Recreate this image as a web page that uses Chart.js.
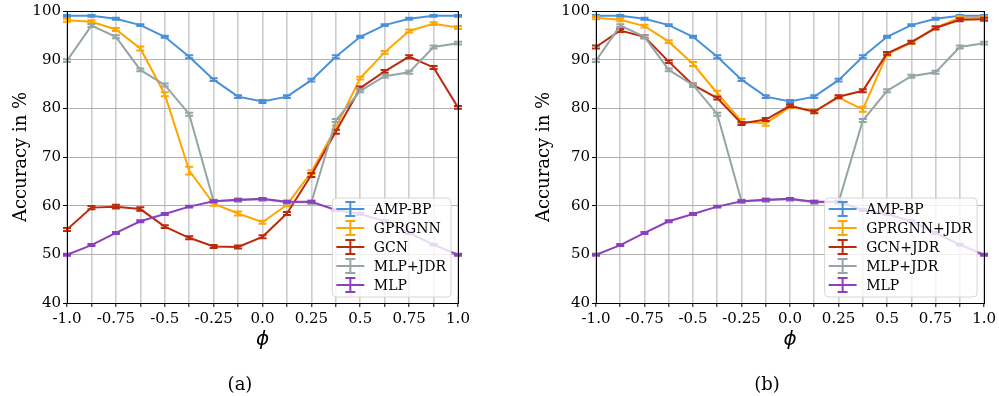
<!DOCTYPE html>
<html>
<head>
<meta charset="utf-8">
<script src="https://cdn.jsdelivr.net/npm/chart.js@4.4.1/dist/chart.umd.min.js"></script>
<style>
  html, body { margin: 0; padding: 0; background: #fff; width: 999px; height: 396px; overflow: hidden; }
  .panel { position: absolute; top: 0; width: 500px; height: 396px; }
  .cap { position: absolute; font-family: "DejaVu Serif", serif; font-size: 18px; color: #000; transform: translate(-50%, -50%); white-space: nowrap; }
</style>
</head>
<body>
<div class="panel" style="left:0"><canvas id="ca" width="500" height="396"></canvas></div>
<div class="panel" style="left:499px"><canvas id="cb" width="500" height="396"></canvas></div>
<div class="cap" style="left:240px; top:383px">(a)</div>
<div class="cap" style="left:767px; top:383px">(b)</div>
<script>
// ---------- data ----------
const phi = [-1, -0.875, -0.75, -0.625, -0.5, -0.375, -0.25, -0.125, 0, 0.125, 0.25, 0.375, 0.5, 0.625, 0.75, 0.875, 1];
const xTickLabels = ['-1.0', '-0.75', '-0.5', '-0.25', '0.0', '0.25', '0.5', '0.75', '1.0'];
const yTicks = [40, 50, 60, 70, 80, 90, 100];

const ampbp   = [99.0, 99.0, 98.4, 97.1, 94.7, 90.6, 85.9, 82.4, 81.4, 82.4, 85.8, 90.6, 94.7, 97.1, 98.4, 99.0, 99.0];
const gprgnnA = [98.1, 97.8, 96.2, 92.3, 82.9, 67.2, 60.4, 58.4, 56.6, 60.2, 66.9, 76.0, 86.2, 91.5, 95.9, 97.4, 96.6];
const gcnA    = [55.1, 59.6, 59.8, 59.3, 55.7, 53.4, 51.6, 51.5, 53.6, 58.4, 66.3, 75.2, 84.2, 87.6, 90.6, 88.4, 80.2];
const mlpjdr  = [89.8, 97.0, 94.7, 87.9, 84.8, 78.8, 60.9, 61.1, 61.3, 60.7, 60.7, 77.5, 83.6, 86.6, 87.4, 92.6, 93.4];
const mlp     = [49.9, 51.9, 54.4, 56.8, 58.3, 59.8, 60.9, 61.2, 61.4, 60.8, 60.8, 59.1, 58.3, 56.8, 54.4, 52.0, 49.9];
const gprgnnB = [98.6, 98.2, 96.9, 93.7, 89.1, 83.1, 77.3, 76.9, 80.3, 79.4, 82.2, 79.8, 91.1, 93.5, 96.6, 98.6, 98.6];
const gcnB    = [92.6, 96.0, 94.7, 89.6, 84.8, 82.1, 76.9, 77.7, 80.5, 79.3, 82.4, 83.6, 91.3, 93.6, 96.5, 98.2, 98.3];

// standard deviations (error bars)
const errAmp    = [0.2, 0.2, 0.2, 0.2, 0.2, 0.3, 0.3, 0.3, 0.3, 0.3, 0.3, 0.3, 0.2, 0.2, 0.2, 0.2, 0.2];
const errGprA   = [0.3, 0.3, 0.3, 0.4, 0.4, 0.8, 0.4, 0.4, 0.3, 0.3, 0.4, 0.4, 0.3, 0.3, 0.3, 0.3, 0.3];
const errGcnA   = [0.3, 0.35, 0.4, 0.35, 0.3, 0.3, 0.3, 0.3, 0.3, 0.3, 0.4, 0.4, 0.3, 0.3, 0.3, 0.3, 0.3];
const errJdr    = [0.3, 0.3, 0.3, 0.3, 0.3, 0.3, 0.3, 0.3, 0.3, 0.3, 0.3, 0.3, 0.3, 0.3, 0.3, 0.3, 0.3];
const errMlp    = [0.2, 0.2, 0.2, 0.2, 0.2, 0.2, 0.2, 0.2, 0.2, 0.2, 0.2, 0.2, 0.2, 0.2, 0.2, 0.2, 0.2];
const errGprB   = [0.3, 0.3, 0.3, 0.3, 0.4, 0.5, 0.5, 0.5, 0.3, 0.3, 0.3, 0.5, 0.3, 0.3, 0.3, 0.3, 0.3];
const errGcnB   = [0.3, 0.3, 0.3, 0.3, 0.3, 0.3, 0.3, 0.3, 0.3, 0.3, 0.3, 0.3, 0.3, 0.3, 0.3, 0.3, 0.3];

const namesA = ['AMP-BP', 'GPRGNN', 'GCN', 'MLP+JDR', 'MLP'];
const namesB = ['AMP-BP', 'GPRGNN+JDR', 'GCN+JDR', 'MLP+JDR', 'MLP'];
const colors = ['#4a90d9', '#ffa500', '#bb2a0c', '#95a5a6', '#8c3fc0'];

const SERIF = '"DejaVu Serif", "Liberation Serif", serif';

function pts(arr) { return arr.map((v, i) => ({ x: phi[i], y: v })); }

function makeDatasets(names, series, errs) {
  return names.map((n, i) => ({
    label: n,
    data: pts(series[i]),
    err: errs[i],
    borderColor: colors[i],
    backgroundColor: colors[i],
    borderWidth: 2,
    pointRadius: 0,
    pointHoverRadius: 0,
    tension: 0,
    order: names.length - i
  }));
}

const plotPlugin = {
  id: 'plotExtras',
  afterDatasetDraw(chart, args) {
    const ds = chart.data.datasets[args.index];
    const ys = chart.scales.y;
    const ctx = chart.ctx;
    const ca = chart.chartArea;
    ctx.save();
    ctx.beginPath();
    ctx.rect(ca.left - 6, ca.top - 6, ca.right - ca.left + 12, ca.bottom - ca.top + 12);
    ctx.clip();
    ctx.strokeStyle = ds.borderColor;
    ctx.lineWidth = 2;
    args.meta.data.forEach((el, i) => {
      const v = ds.data[i].y, e = ds.err[i];
      const x = el.x;
      const y1 = ys.getPixelForValue(v - e), y2 = ys.getPixelForValue(v + e);
      ctx.beginPath();
      ctx.moveTo(x, y1); ctx.lineTo(x, y2);
      ctx.moveTo(x - 4, y1); ctx.lineTo(x + 4, y1);
      ctx.moveTo(x - 4, y2); ctx.lineTo(x + 4, y2);
      ctx.stroke();
    });
    ctx.restore();
  },
  afterDraw(chart) {
    const ctx = chart.ctx;
    const ca = chart.chartArea;
    // frame
    ctx.save();
    ctx.strokeStyle = '#000';
    ctx.lineWidth = 1;
    ctx.strokeRect(Math.round(ca.left) + 0.5, Math.round(ca.top) + 0.5,
                   Math.round(ca.right) - Math.round(ca.left), Math.round(ca.bottom) - Math.round(ca.top));
    ctx.restore();
    // legend
    const ds = chart.data.datasets;
    ctx.save();
    ctx.font = '14px ' + SERIF;
    let maxW = 0;
    ds.forEach(d => { maxW = Math.max(maxW, ctx.measureText(d.label).width); });
    const w = 4 + 28 + 9.5 + maxW + 5;
    const h = 99;
    const right = ca.right - 7, bottom = ca.bottom - 6;
    const left = right - w, top = bottom - h;
    const r = 4;
    ctx.beginPath();
    ctx.moveTo(left + r, top);
    ctx.arcTo(right, top, right, bottom, r);
    ctx.arcTo(right, bottom, left, bottom, r);
    ctx.arcTo(left, bottom, left, top, r);
    ctx.arcTo(left, top, right, top, r);
    ctx.closePath();
    ctx.fillStyle = 'rgba(255,255,255,0.8)';
    ctx.fill();
    ctx.strokeStyle = '#d6d6d6';
    ctx.lineWidth = 1;
    ctx.stroke();
    ds.forEach((d, i) => {
      const cy = top + 11 + i * 19;
      const x0 = left + 4, x1 = x0 + 28, xm = (x0 + x1) / 2;
      ctx.strokeStyle = d.borderColor;
      ctx.lineWidth = 2;
      ctx.beginPath();
      ctx.moveTo(x0, cy); ctx.lineTo(x1, cy);
      ctx.moveTo(xm, cy - 7); ctx.lineTo(xm, cy + 7);
      ctx.moveTo(xm - 5, cy - 7); ctx.lineTo(xm + 5, cy - 7);
      ctx.moveTo(xm - 5, cy + 7); ctx.lineTo(xm + 5, cy + 7);
      ctx.stroke();
      ctx.fillStyle = '#000';
      ctx.textBaseline = 'middle';
      ctx.textAlign = 'left';
      ctx.fillText(d.label, x1 + 9.5, cy + 1);
    });
    ctx.restore();
  }
};

function makeChart(id, datasets, yWidth, padRight, yTitlePad) {
  return new Chart(document.getElementById(id), {
    type: 'line',
    data: { datasets },
    plugins: [plotPlugin],
    options: {
      responsive: false,
      animation: false,
      events: [],
      layout: { padding: { left: 0, right: padRight, top: 10, bottom: 0 } },
      plugins: { legend: { display: false }, tooltip: { enabled: false } },
      scales: {
        x: {
          type: 'linear',
          min: -1, max: 1,
          afterFit: s => { s.height = 93; },
          afterBuildTicks: s => { s.ticks = phi.map(v => ({ value: v })); },
          border: { display: false },
          grid: { color: '#cdcdcd', lineWidth: 1.6, tickColor: '#000', tickLength: 4, tickWidth: 1, drawTicks: true },
          ticks: {
            autoSkip: false, maxRotation: 0, padding: 3,
            color: '#000',
            font: { family: SERIF, size: 15 },
            callback: (v) => {
              const k = Math.round((v + 1) * 4);
              return Math.abs((v + 1) * 4 - k) < 1e-6 ? xTickLabels[k] : '';
            }
          },
          title: {
            display: true, text: 'ϕ', color: '#000',
            font: { family: '"DejaVu Sans", sans-serif', size: 20, style: 'italic' },
            padding: { top: 0, bottom: 44 }
          }
        },
        y: {
          min: 40, max: 100,
          afterFit: s => { s.width = yWidth; },
          afterBuildTicks: s => { s.ticks = yTicks.map(v => ({ value: v })); },
          border: { display: false },
          grid: { color: '#b0b0b0', lineWidth: 1, tickColor: '#000', tickLength: 4, tickWidth: 1 },
          ticks: { padding: 2, color: '#000', font: { family: SERIF, size: 15 } },
          title: {
            display: true, text: 'Accuracy in %', color: '#000',
            font: { family: SERIF, size: 18 },
            padding: { top: yTitlePad, bottom: 0 }
          }
        }
      }
    }
  });
}

makeChart('ca', makeDatasets(namesA, [ampbp, gprgnnA, gcnA, mlpjdr, mlp], [errAmp, errGprA, errGcnA, errJdr, errMlp]), 67, 42, 11);
makeChart('cb', makeDatasets(namesB, [ampbp, gprgnnB, gcnB, mlpjdr, mlp], [errAmp, errGprB, errGcnB, errJdr, errMlp]), 97, 13, 35);
</script>
</body>
</html>
